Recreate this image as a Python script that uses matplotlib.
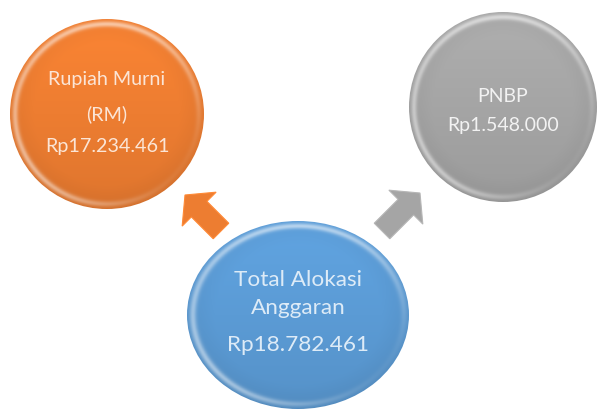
import numpy as np
import matplotlib
matplotlib.use("Agg")
import matplotlib.pyplot as plt
from matplotlib.patches import Ellipse, FancyArrow
from matplotlib.colors import to_rgb

# ---- data ----
names = ["Rupiah Murni", "PNBP", "Total Alokasi Anggaran"]
label_lines = [["Rupiah Murni", "(RM)"], ["PNBP"], ["Total Alokasi", "Anggaran"]]
amounts = [17234461, 1548000, 18782461]

def rp(v):
    return "Rp" + f"{v:,}".replace(",", ".")

# ---- layout / style ----
W, H = 598, 414
centers = [(107, 115), (503, 108), (298, 316)]
radii = [(97, 95), (94, 95), (111, 94)]
colors = ["#ED7D31", "#A5A5A5", "#5B9BD5"]
text_colors = ["#FBE5D6", "#F2F2F2", "#DDEBF7"]
font_sizes = [14.2, 14, 16.2]
line_y = [[80, 114], [97], [280, 308]]
value_y = [147, 126, 345]

arrows = [((221, 232), (185, 196), "#ED7D31"),
          ((382, 232), (420, 194), "#A5A5A5")]

plt.rcParams['font.family'] = ['Lato', 'DejaVu Sans']
fig = plt.figure(figsize=(W / 100, H / 100), dpi=100)
ax = fig.add_axes([0, 0, 1, 1])
ax.set_xlim(0, W)
ax.set_ylim(H, 0)
ax.axis('off')


def shaded(color, n=300):
    base = np.array(to_rgb(color))
    u = np.linspace(-1, 1, n)
    X, Y = np.meshgrid(u, u)
    R = np.sqrt(X ** 2 + Y ** 2)
    ang = np.arctan2(Y, X)
    shade = 1.0 + 0.06 * (-Y) - 0.10 * np.clip(R - 0.75, 0, 1) * 2
    img = np.clip(base[None, None, :] * shade[..., None], 0, 1)
    rim = np.exp(-((R - 0.95) / 0.03) ** 2)
    hl = 0.5 + 0.5 * np.cos(ang + np.pi / 2)
    hl2 = 0.5 + 0.5 * np.cos(ang - 2.4)
    strength = rim * (0.55 * hl ** 2 + 0.45 * hl2 ** 3)
    img = img * (1 - strength[..., None]) + strength[..., None]
    return img


for (cx, cy), (rx, ry), col in zip(centers, radii, colors):
    img = shaded(col)
    im = ax.imshow(img, extent=(cx - rx, cx + rx, cy + ry, cy - ry),
                   interpolation='bilinear', zorder=2)
    clip = Ellipse((cx, cy), 2 * rx, 2 * ry, transform=ax.transData,
                   facecolor='none', edgecolor='none')
    ax.add_patch(clip)
    im.set_clip_path(clip)

for (x0, y0), (x1, y1), col in arrows:
    base = np.array(to_rgb(col))
    a = FancyArrow(x0, y0, x1 - x0, y1 - y0, width=22, head_width=48,
                   head_length=20, length_includes_head=True,
                   facecolor=col, edgecolor=tuple(np.clip(base * 1.1, 0, 1)),
                   linewidth=0.8, zorder=3)
    ax.add_patch(a)

for i in range(3):
    cx = centers[i][0]
    for line, y in zip(label_lines[i], line_y[i]):
        ax.text(cx, y, line, ha='center', va='center', color=text_colors[i],
                fontsize=font_sizes[i], zorder=5)
    ax.text(cx, value_y[i], rp(amounts[i]), ha='center', va='center',
            color=text_colors[i], fontsize=font_sizes[i], zorder=5)

ax.set_xlim(0, W)
ax.set_ylim(H, 0)
fig.savefig("out.png", dpi=100, facecolor='white')
